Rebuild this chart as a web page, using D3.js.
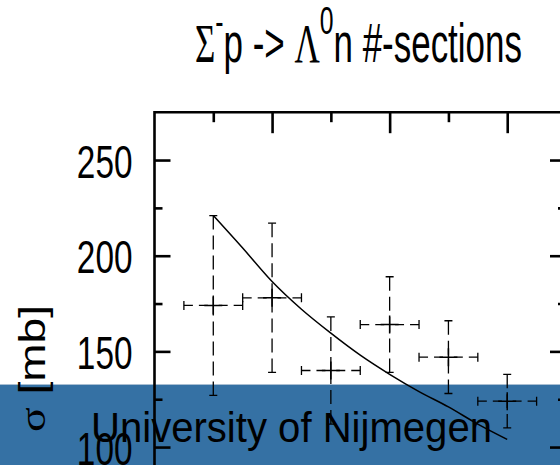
<!DOCTYPE html>
<html>
<head>
<meta charset="utf-8">
<script src="https://cdn.jsdelivr.net/npm/d3@7"></script>
<style>
  body { margin: 0; background: #fff; }
  svg { display: block; }
</style>
</head>
<body>
<svg id="chart" width="560" height="465"></svg>
<script>
  // DATA
  // measured points (momentum bins, cross-section and its error)
  var momentum  = [110, 120, 130, 140, 150, 160];
  var binHalf   = [5, 5, 5, 5, 5, 5];
  var sigma     = [174, 178, 140, 164, 147, 124];
  var sigmaErr  = [47, 39, 28, 25, 19, 14];

  // model curve
  var curveMomentum = [110, 115, 120, 125, 130, 135, 140, 145, 150, 155, 160];
  var curveSigma    = [221, 204, 186.5, 172, 159.5, 148, 138, 129, 121, 112, 104];

  // ticks
  var yMajorTicks = [100, 150, 200, 250];
  var yMinorTicks = [125, 175, 225];
  var xMajorTicks = [120, 140, 160];
  var xMinorTicks = [110, 130, 150];

  var sansFont  = 'Liberation Sans, Arial, Helvetica, sans-serif';
  var serifFont = 'Liberation Serif, Times New Roman, serif';

  var svg = d3.select('#chart');

  // SCALES
  var frameLeft = 154.5, frameRight = 566, frameTop = 112.2;
  var x = d3.scaleLinear().domain([100, 170]).range([frameLeft, frameRight]);
  var y = d3.scaleLinear().domain([60, 275]).range([523.6, frameTop]);

  /**
   * banner across the bottom (drawn first, the plot shows through on top)
   */
  svg.append('rect')
    .attr('x', 0).attr('y', 384)
    .attr('width', 560).attr('height', 81)
    .attr('fill', '#3571a4');
  svg.append('line')
    .attr('x1', 0).attr('x2', 560)
    .attr('y1', 384.5).attr('y2', 384.5)
    .attr('stroke', '#a9bfd3')
    .attr('stroke-width', 1);
  svg.append('text')
    .attr('x', 91).attr('y', 441.7)
    .attr('font-family', sansFont)
    .attr('font-size', 42)
    .attr('textLength', 401)
    .attr('lengthAdjust', 'spacingAndGlyphs')
    .attr('fill', '#000')
    .text('University of Nijmegen');

  /**
   * Title: Σ⁻p -> Λ⁰n #-sections (condensed like the original)
   */
  var title = svg.append('text')
    .attr('font-family', sansFont)
    .attr('font-size', 55)
    .attr('fill', '#000');
  title.append('tspan').attr('font-family', serifFont).text('Σ');
  title.append('tspan').attr('font-size', 39).attr('dy', -27).text('-');
  title.append('tspan').attr('dy', 27).text('p -> ');
  title.append('tspan').attr('font-family', serifFont).text('Λ');
  title.append('tspan').attr('font-size', 39).attr('dy', -28).text('0');
  title.append('tspan').attr('dy', 28).text('n #-sections');

  var tb = title.node().getBBox();
  var titleScale = 327 / tb.width;
  title.attr('transform',
    'translate(' + (195 - tb.x * titleScale) + ',61.7) scale(' + titleScale + ',1)');

  /**
   * Axes
   */
  var axisColor = '#000';
  var axisWidth = 2.6;

  function styleAxis(g) {
    g.select('.domain').remove();
    g.selectAll('.tick line')
      .attr('stroke', axisColor)
      .attr('stroke-width', axisWidth);
  }

  // left axis, ticks pointing inwards, condensed labels
  svg.append('g')
    .attr('transform', 'translate(' + frameLeft + ',0)')
    .call(d3.axisLeft(y).tickValues(yMajorTicks).tickSize(-16).tickFormat(d3.format('d')))
    .call(styleAxis)
    .call(function (g) {
      g.selectAll('.tick text')
        .attr('x', 0)
        .attr('dy', 17)
        .attr('fill', '#000')
        .attr('font-family', sansFont)
        .attr('font-size', 47)
        .attr('text-anchor', 'end')
        .attr('transform', 'translate(-22,0) scale(0.71,1)');
    });
  svg.append('g')
    .attr('transform', 'translate(' + frameLeft + ',0)')
    .call(d3.axisLeft(y).tickValues(yMinorTicks).tickSize(-8).tickFormat(''))
    .call(styleAxis);

  // right axis (frame edge sits just past the window)
  svg.append('g')
    .attr('transform', 'translate(' + frameRight + ',0)')
    .call(d3.axisRight(y).tickValues(yMajorTicks).tickSize(-16).tickFormat(''))
    .call(styleAxis);
  svg.append('g')
    .attr('transform', 'translate(' + frameRight + ',0)')
    .call(d3.axisRight(y).tickValues(yMinorTicks).tickSize(-8).tickFormat(''))
    .call(styleAxis);

  // top axis
  svg.append('g')
    .attr('transform', 'translate(0,' + frameTop + ')')
    .call(d3.axisTop(x).tickValues(xMajorTicks).tickSize(-21).tickFormat(''))
    .call(styleAxis);
  svg.append('g')
    .attr('transform', 'translate(0,' + frameTop + ')')
    .call(d3.axisTop(x).tickValues(xMinorTicks).tickSize(-10).tickFormat(''))
    .call(styleAxis);

  // frame lines
  svg.append('path')
    .attr('d', 'M' + frameLeft + ',' + (y(60)) + 'V' + frameTop + 'H' + frameRight + 'V' + y(60))
    .attr('fill', 'none')
    .attr('stroke', axisColor)
    .attr('stroke-width', axisWidth)
    .attr('stroke-linejoin', 'miter')
    .attr('stroke-linecap', 'square');

  // y axis title
  var yTitle = svg.append('text')
    .attr('font-family', sansFont)
    .attr('font-size', 47)
    .attr('fill', '#000');
  yTitle.append('tspan').attr('font-family', serifFont).text('σ');
  yTitle.append('tspan').text(' [mb]');
  var yb = yTitle.node().getBBox();
  var yLen = 127 / yb.width;
  yTitle.attr('transform',
    'translate(45,' + (432 + yb.x * yLen) + ') rotate(-90) scale(' + yLen + ',0.77)');

  /**
   * Model curve
   */
  var curvePoints = curveMomentum.map(function (p, i) {
    return [p, curveSigma[i]];
  });
  var drawCurve = d3.line()
    .x(function (d) { return x(d[0]); })
    .y(function (d) { return y(d[1]); })
    .curve(d3.curveMonotoneX);
  svg.append('path')
    .attr('d', drawCurve(curvePoints))
    .attr('fill', 'none')
    .attr('stroke', '#000')
    .attr('stroke-width', 1.5);

  /**
   * Data points with dashed error bars
   */
  var points = momentum.map(function (p, i) {
    return { p: p, dp: binHalf[i], s: sigma[i], ds: sigmaErr[i] };
  });

  var pointGroup = svg.append('g')
    .attr('id', 'points')
    .attr('stroke', '#000')
    .attr('fill', 'none');

  var pts = pointGroup.selectAll('g.point')
    .data(points)
    .enter()
    .append('g')
    .attr('class', 'point');

  var vDash = '14,6';
  var hDash = '9,6';
  var bw = 1.3;

  // dashed arms, each drawn from its end towards the centre
  pts.append('path')
    .attr('stroke-width', bw)
    .attr('stroke-dasharray', vDash)
    .attr('d', function (d) {
      var cx = x(d.p), cy = y(d.s);
      return 'M' + cx + ',' + y(d.s + d.ds) + 'V' + cy;
    });
  pts.append('path')
    .attr('stroke-width', bw)
    .attr('stroke-dasharray', vDash)
    .attr('d', function (d) {
      var cx = x(d.p), cy = y(d.s);
      return 'M' + cx + ',' + y(d.s - d.ds) + 'V' + cy;
    });
  pts.append('path')
    .attr('stroke-width', bw)
    .attr('stroke-dasharray', hDash)
    .attr('d', function (d) {
      var cx = x(d.p), cy = y(d.s);
      return 'M' + x(d.p - d.dp) + ',' + cy + 'H' + cx;
    });
  pts.append('path')
    .attr('stroke-width', bw)
    .attr('stroke-dasharray', hDash)
    .attr('d', function (d) {
      var cx = x(d.p), cy = y(d.s);
      return 'M' + x(d.p + d.dp) + ',' + cy + 'H' + cx;
    });

  // end caps
  pts.append('path')
    .attr('stroke-width', bw)
    .attr('d', function (d) {
      var cx = x(d.p), cy = y(d.s);
      var top = y(d.s + d.ds), bot = y(d.s - d.ds);
      var l = x(d.p - d.dp), r = x(d.p + d.dp);
      return 'M' + (cx - 4) + ',' + top + 'H' + (cx + 4)
        + 'M' + (cx - 4) + ',' + bot + 'H' + (cx + 4)
        + 'M' + l + ',' + (cy - 4.5) + 'V' + (cy + 4.5)
        + 'M' + r + ',' + (cy - 4.5) + 'V' + (cy + 4.5);
    });

  // "+" marker
  pts.append('path')
    .attr('stroke-width', 1.5)
    .attr('d', function (d) {
      var cx = x(d.p), cy = y(d.s);
      return 'M' + (cx - 9) + ',' + cy + 'H' + (cx + 9)
        + 'M' + cx + ',' + (cy - 9) + 'V' + (cy + 9);
    });
</script>
</body>
</html>
